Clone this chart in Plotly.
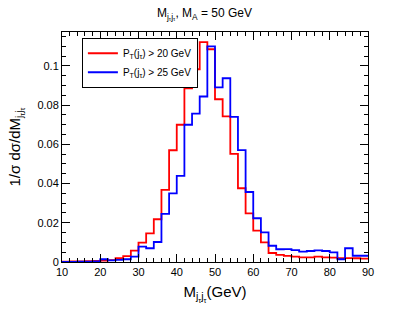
import plotly.graph_objects as go

bin_edges = [10, 12, 14, 16, 18, 20, 22, 24, 26, 28, 30, 32, 34, 36, 38, 40,
             42, 44, 46, 48, 50, 52, 54, 56, 58, 60, 62, 64, 66, 68, 70, 72,
             74, 76, 78, 80, 82, 84, 86, 88, 90]

red_pt20 = [0.0002, 0.0003, 0.0003, 0.0004, 0.0005, 0.0007, 0.0010, 0.0019,
            0.0030, 0.0058, 0.0099, 0.0146, 0.0218, 0.0368, 0.0570, 0.0700,
            0.0886, 0.0983, 0.1121, 0.1085, 0.0830, 0.0743, 0.0551, 0.0376,
            0.0248, 0.0160, 0.0100, 0.0046, 0.0036, 0.0031, 0.0027, 0.0024,
            0.0024, 0.0027, 0.0024, 0.0022, 0.0019, 0.0020, 0.0019, 0.0017]

blue_pt25 = [0.0001, 0.0001, 0.0002, 0.0002, 0.0003, 0.0014, 0.0008, 0.0011,
             0.0014, 0.0027, 0.0078, 0.0070, 0.0102, 0.0245, 0.0350, 0.0439,
             0.0700, 0.0757, 0.0844, 0.1100, 0.0891, 0.0937, 0.0740, 0.0571,
             0.0357, 0.0223, 0.0151, 0.0083, 0.0065, 0.0066, 0.0061, 0.0053,
             0.0056, 0.0059, 0.0056, 0.0049, 0.0014, 0.0070, 0.0032, 0.0032]

names = ["P<sub>T</sub>(j<sub>τ</sub>) > 20 GeV", "P<sub>T</sub>(j<sub>τ</sub>) > 25 GeV"]
colors = ["#ff0000", "#0000ff"]

fig = go.Figure()
for vals, name, col in zip([red_pt20, blue_pt25], names, colors):
    fig.add_trace(go.Scatter(
        x=bin_edges, y=vals + [vals[-1]], mode="lines", line_shape="hv",
        line=dict(color=col, width=1.8), name=name))

font_family = "Liberation Sans, Arial, sans-serif"
fig.update_layout(
    width=409, height=309,
    margin=dict(l=62, r=41, t=32, b=47, autoexpand=False),
    paper_bgcolor="white", plot_bgcolor="white",
    font=dict(family=font_family, size=11, color="black"),
    title=dict(text="M<sub>j<sub>τ</sub>j<sub>τ</sub></sub>, M<sub>A</sub> = 50 GeV",
               x=0.5, xref="container", xanchor="center",
               y=1 - 13 / 309, yref="container", yanchor="middle",
               font=dict(size=12)),
    showlegend=True,
    legend=dict(x=0.065, y=0.975, xanchor="left", yanchor="top",
                bordercolor="black", borderwidth=1, bgcolor="white",
                font=dict(size=10), itemwidth=30, tracegroupgap=0),
)
fig.update_xaxes(
    range=[10, 90], tick0=10, dtick=10, ticks="inside", ticklen=8,
    tickcolor="black", showline=True, linecolor="black", linewidth=1,
    mirror="ticks", showgrid=False, zeroline=False, automargin=False,
    minor=dict(dtick=2, ticks="inside", ticklen=4, tickcolor="black", showgrid=False),
    title=dict(text="M<sub>j<sub>τ</sub>j<sub>τ</sub></sub>(GeV)", font=dict(size=15), standoff=9),
    tickfont=dict(size=11),
)
fig.update_yaxes(
    range=[0, 0.1173], tick0=0, dtick=0.02, ticks="inside", ticklen=8,
    tickcolor="black", showline=True, linecolor="black", linewidth=1,
    mirror="ticks", showgrid=False, zeroline=False, automargin=False,
    minor=dict(dtick=0.005, ticks="inside", ticklen=4, tickcolor="black", showgrid=False),
    title=dict(text="1/σ dσ/dM<sub>j<sub>τ</sub>j<sub>τ</sub></sub>", font=dict(size=15), standoff=13),
    tickfont=dict(size=11),
)

fig.write_html("out.html", config={"displayModeBar": False},
               post_script="document.body.style.margin='0px';document.body.style.padding='0px';")
